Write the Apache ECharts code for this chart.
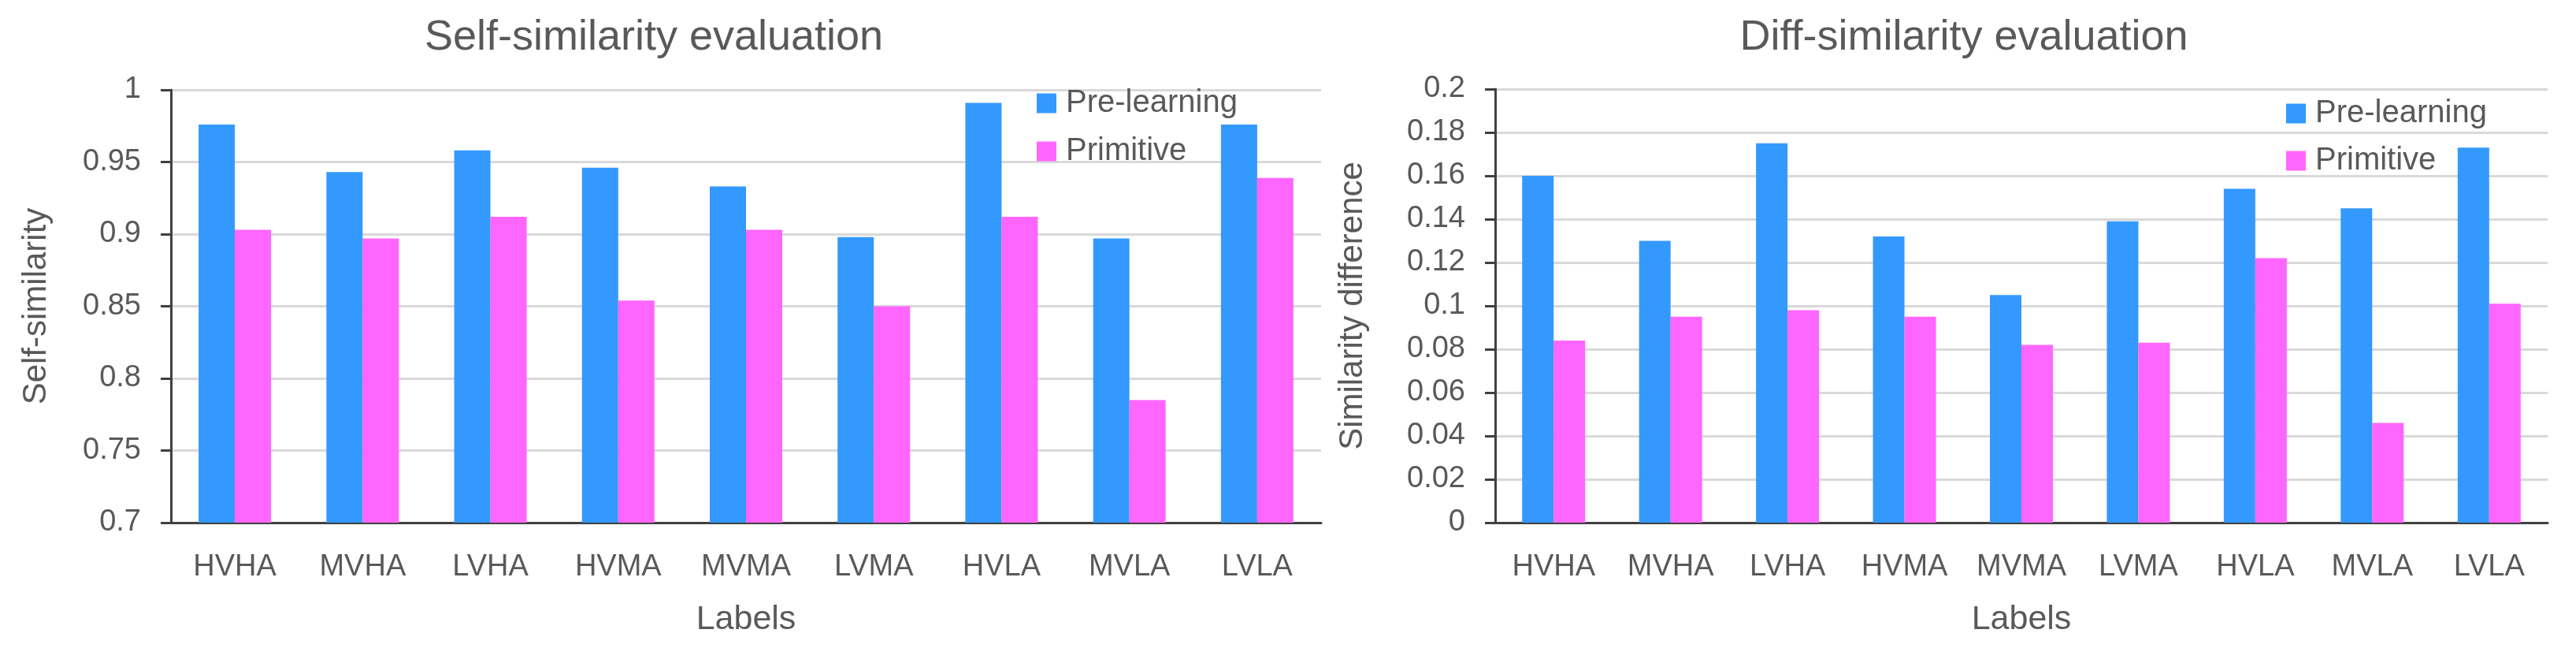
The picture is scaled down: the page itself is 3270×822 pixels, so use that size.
<!DOCTYPE html>
<html>
<head>
<meta charset="utf-8">
<script src="https://cdn.jsdelivr.net/npm/echarts@6/dist/echarts.min.js"></script>
<style>
html,body{margin:0;padding:0;background:#fff;}
#main{width:3270px;height:822px;}
</style>
</head>
<body>
<div id="main"></div>
<script>
const categories = ['HVHA','MVHA','LVHA','HVMA','MVMA','LVMA','HVLA','MVLA','LVLA'];
const selfPre = [0.976,0.943,0.958,0.946,0.933,0.898,0.991,0.897,0.976];
const selfPrim = [0.903,0.897,0.912,0.854,0.903,0.850,0.912,0.785,0.939];
const diffPre = [0.160,0.130,0.175,0.132,0.105,0.139,0.154,0.145,0.173];
const diffPrim = [0.084,0.095,0.098,0.095,0.082,0.083,0.122,0.046,0.101];
const seriesNames = ['Pre-learning','Primitive'];
const titles = ['Self-similarity evaluation','Diff-similarity evaluation'];
const yNames = ['Self-similarity','Similarity difference'];
const xName = 'Labels';

const FONT = 'Liberation Sans';
const TXT = '#595959';
const BLUE = '#3399FF';
const PINK = '#FF66FF';

function yAxis(idx, min, max, interval, gap){
  return {
    type:'value', gridIndex: idx, min:min, max:max, interval:interval,
    name: yNames[idx], nameLocation:'middle', nameGap: gap,
    nameTextStyle:{fontFamily:FONT, fontSize:42, color:TXT},
    axisLine:{show:true, lineStyle:{color:'#404040', width:3}},
    axisTick:{show:true, length:13, lineStyle:{color:'#404040', width:3}},
    axisLabel:{fontFamily:FONT, fontSize:38, color:TXT, margin:38},
    splitLine:{show:true, lineStyle:{color:'#d9d9d9', width:3}}
  };
}
function xAxis(idx){
  return {
    type:'category', gridIndex: idx, data: categories,
    name: xName, nameLocation:'middle', nameGap: 102,
    nameTextStyle:{fontFamily:FONT, fontSize:43, color:TXT},
    axisLine:{show:true, lineStyle:{color:'#404040', width:3}},
    axisTick:{show:false},
    axisLabel:{fontFamily:FONT, fontSize:38, color:TXT, margin:38}
  };
}

const option = {
  backgroundColor:'#fff',
  animation:false,
  title:[
    {text:titles[0], left:830, top:21, textAlign:'center', padding:0,
     textStyle:{fontFamily:FONT, fontSize:54, fontWeight:'normal', color:TXT}},
    {text:titles[1], left:2493, top:21, textAlign:'center', padding:0,
     textStyle:{fontFamily:FONT, fontSize:54, fontWeight:'normal', color:TXT}}
  ],
  legend:[
    {data:seriesNames, orient:'vertical', left:1316, top:111, padding:0,
     itemWidth:25, itemHeight:25, itemGap:21, icon:'rect',
     textStyle:{fontFamily:FONT, fontSize:40, color:TXT, lineHeight:40, padding:[0,0,0,7]},
     selectedMode:false},
    {data:seriesNames, orient:'vertical', left:2902, top:124, padding:0,
     itemWidth:25, itemHeight:25, itemGap:20, icon:'rect',
     textStyle:{fontFamily:FONT, fontSize:40, color:TXT, lineHeight:40, padding:[0,0,0,7]},
     selectedMode:false}
  ],
  grid:[
    {left:217, top:114, width:1460, height:549},
    {left:1898, top:113, width:1336, height:550}
  ],
  xAxis:[xAxis(0), xAxis(1)],
  yAxis:[yAxis(0,0.7,1,0.05,150), yAxis(1,0,0.2,0.02,160)],
  series:[
    {name:seriesNames[0], type:'bar', xAxisIndex:0, yAxisIndex:0, data:selfPre,
     barWidth:46, barGap:'0%', itemStyle:{color:BLUE}},
    {name:seriesNames[1], type:'bar', xAxisIndex:0, yAxisIndex:0, data:selfPrim,
     barWidth:46, barGap:'0%', itemStyle:{color:PINK}},
    {name:seriesNames[0], type:'bar', xAxisIndex:1, yAxisIndex:1, data:diffPre,
     barWidth:40, barGap:'0%', itemStyle:{color:BLUE}},
    {name:seriesNames[1], type:'bar', xAxisIndex:1, yAxisIndex:1, data:diffPrim,
     barWidth:40, barGap:'0%', itemStyle:{color:PINK}}
  ]
};
const chart = echarts.init(document.getElementById('main'), null, {renderer:'canvas'});
chart.setOption(option);
</script>
</body>
</html>
